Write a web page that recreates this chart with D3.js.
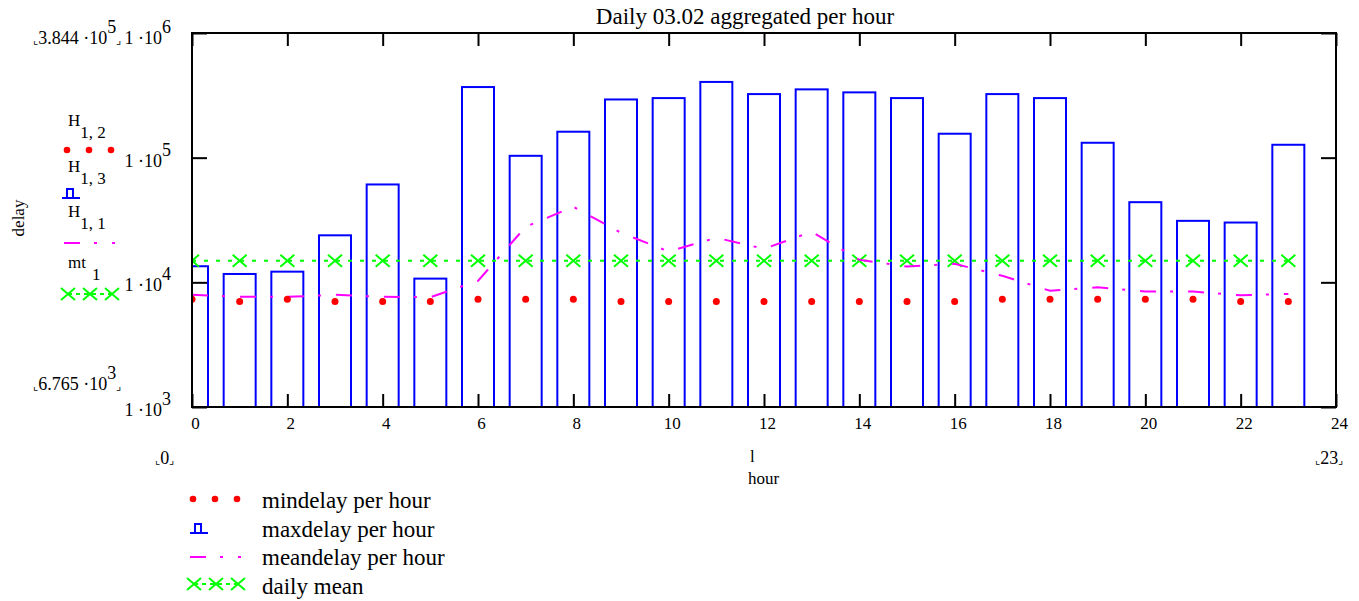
<!DOCTYPE html>
<html>
<head>
<meta charset="utf-8">
<script src="https://cdn.jsdelivr.net/npm/d3@7"></script>
<style>
  body { margin: 0; background: #fff; }
  svg { font-family: "Liberation Serif", "Times New Roman", serif; }
</style>
</head>
<body>
<script>
// values
var hours = [0, 1, 2, 3, 4, 5, 6, 7, 8, 9, 10, 11, 12, 13, 14, 15, 16, 17, 18, 19, 20, 21, 22, 23];
var maxDelay = [13460, 11670, 12180, 23830, 60960, 10710, 368500, 103500, 161500, 293000, 300500, 405000,
                323600, 353000, 334000, 300500, 155600, 323600, 300500, 131700, 43950, 31130, 30180, 126900];
var minDelay = [7330, 7010, 7330, 7010, 7010, 7010, 7330, 7330, 7330, 7010, 7010, 7010,
                7010, 7010, 7010, 7010, 7010, 7330, 7330, 7330, 7330, 7330, 7010, 7010];
var meanDelay = [7940, 7650, 7650, 7940, 7650, 7600, 10280, 27910, 40400, 24980, 17680, 22780,
                 18580, 25440, 15160, 13390, 14080, 11280, 8550, 9120, 8440, 8440, 7860, 8080];
var dailyMean = 14900;
var xTicks = [0, 2, 4, 6, 8, 10, 12, 14, 16, 18, 20, 22, 24];
var yTicks = [1e3, 1e4, 1e5, 1e6];
var legendLabels = ["mindelay per hour", "maxdelay per hour", "meandelay per hour", "daily mean"];

var width = 1359, height = 601;
var plot = { left: 192, right: 1336, top: 33, bottom: 407 };

var svg = d3.select("body").append("svg")
            .attr("width", width)
            .attr("height", height);

var x = d3.scaleLinear().domain([0, 24]).range([plot.left, plot.right]);
var y = d3.scaleLog().domain([1e3, 1e6]).range([plot.bottom, plot.top]);

svg.append("clipPath").attr("id", "clip")
   .append("rect")
   .attr("x", plot.left).attr("y", plot.top)
   .attr("width", plot.right - plot.left)
   .attr("height", plot.bottom - plot.top);

var g = svg.append("g").attr("clip-path", "url(#clip)");

// max delay bars
g.selectAll("rect.bar")
 .data(hours)
 .enter().append("rect")
 .attr("class", "bar")
 .attr("x", function(d) { return x(d) - 16; })
 .attr("y", function(d) { return y(maxDelay[d]); })
 .attr("width", 32)
 .attr("height", function(d) { return plot.bottom - y(maxDelay[d]); })
 .attr("fill", "none")
 .attr("stroke", "#0000ff")
 .attr("stroke-width", 2);

// daily mean, dotted with crosses
g.append("path")
 .datum(hours)
 .attr("d", d3.line().x(function(d) { return x(d); }).y(function() { return y(dailyMean); }))
 .attr("fill", "none")
 .attr("stroke", "#00ff00")
 .attr("stroke-width", 2)
 .attr("stroke-dasharray", "4,8");

var cross = "M-7,-6L7,6M-7,6L7,-6";
g.selectAll("path.cross")
 .data(hours)
 .enter().append("path")
 .attr("class", "cross")
 .attr("transform", function(d) { return "translate(" + x(d) + "," + y(dailyMean) + ")"; })
 .attr("d", cross)
 .attr("stroke", "#00ff00")
 .attr("stroke-width", 2);

// mean delay, dash-dot
g.append("path")
 .datum(hours)
 .attr("d", d3.line().x(function(d) { return x(d); }).y(function(d) { return y(meanDelay[d]); }))
 .attr("fill", "none")
 .attr("stroke", "#ff00ff")
 .attr("stroke-width", 2)
 .attr("stroke-dasharray", "16,14,3,15");

// min delay dots
g.selectAll("circle.min")
 .data(hours)
 .enter().append("circle")
 .attr("class", "min")
 .attr("cx", function(d) { return x(d); })
 .attr("cy", function(d) { return y(minDelay[d]); })
 .attr("r", 3.5)
 .attr("fill", "#ff0000");

// frame and axes
svg.append("rect")
   .attr("x", plot.left).attr("y", plot.top)
   .attr("width", plot.right - plot.left)
   .attr("height", plot.bottom - plot.top)
   .attr("fill", "none")
   .attr("stroke", "#000")
   .attr("stroke-width", 2);

var xAxis = svg.append("g")
   .attr("transform", "translate(0," + plot.bottom + ")")
   .call(d3.axisBottom(x).tickValues(xTicks).tickSize(-13).tickPadding(10).tickFormat(d3.format("d")));
xAxis.select(".domain").remove();
xAxis.selectAll("line").attr("stroke-width", 2);
xAxis.selectAll("text")
     .attr("dx", 3)
     .attr("font-size", 17)
     .attr("font-family", "Liberation Serif")
     .attr("fill", "#000");

var topAxis = svg.append("g")
   .attr("transform", "translate(0," + plot.top + ")")
   .call(d3.axisTop(x).tickValues(xTicks).tickSize(-13).tickFormat(""));
topAxis.select(".domain").remove();
topAxis.selectAll("line").attr("stroke-width", 2);

var yAxis = svg.append("g")
   .attr("transform", "translate(" + plot.left + ",0)")
   .call(d3.axisLeft(y).tickValues(yTicks).tickSize(-15).tickFormat(""));
yAxis.select(".domain").remove();
yAxis.selectAll("line").attr("stroke-width", 2);

var rAxis = svg.append("g")
   .attr("transform", "translate(" + plot.right + ",0)")
   .call(d3.axisRight(y).tickValues(yTicks).tickSize(-15).tickFormat(""));
rAxis.select(".domain").remove();
rAxis.selectAll("line").attr("stroke-width", 2);

// y tick labels 1 ·10^n
var yl = svg.selectAll("text.ylab")
   .data(yTicks)
   .enter().append("text")
   .attr("class", "ylab")
   .attr("x", 171)
   .attr("y", function(d) { return Math.max(y(d) + 9, 44); })
   .attr("text-anchor", "end")
   .attr("font-size", 18);
yl.append("tspan").text("1 \u00b710");
yl.append("tspan").attr("dy", -11)
  .text(function(d) { return Math.round(Math.log10(d)); });

// Mathcad limit markers
function limitLabel(xp, yp, main, sup) {
  var t = svg.append("text").attr("x", xp).attr("y", yp).attr("font-size", 18);
  t.append("tspan").attr("font-family", "DejaVu Sans").attr("font-size", 11).text("\u231e");
  t.append("tspan").text(main);
  if (sup) t.append("tspan").attr("dy", -11).text(sup);
  t.append("tspan").attr("dy", sup ? 11 : 0).attr("font-family", "DejaVu Sans").attr("font-size", 11).text("\u231f");
  return t;
}
limitLabel(33, 44, "3.844 \u00b710", "5");
limitLabel(33, 390, "6.765 \u00b710", "3");
limitLabel(155, 464, "0", null);
limitLabel(1315, 464, "23", null);

svg.append("text").attr("x", 750).attr("y", 462).attr("font-size", 17).text("l");
svg.append("text").attr("x", 748).attr("y", 484).attr("font-size", 17).text("hour");

svg.append("text")
   .attr("transform", "translate(24,218) rotate(-90)")
   .attr("text-anchor", "middle")
   .attr("font-size", 17)
   .text("delay");

svg.append("text")
   .attr("x", 745).attr("y", 24)
   .attr("text-anchor", "middle")
   .attr("font-size", 23)
   .text("Daily 03.02 aggregated per hour");

// left trace names
var traceNames = [["H", "1, 2", 126], ["H", "1, 3", 172], ["H", "1, 1", 217], ["mt", "1", 268]];
traceNames.forEach(function(t) {
  var tx = svg.append("text").attr("x", 68).attr("y", t[2]).attr("font-size", 17);
  tx.append("tspan").text(t[0]);
  tx.append("tspan").attr("dy", 12).attr("dx", t[0] == "mt" ? 6 : 0).text(t[1]);
});

// legend symbols, used at left and at bottom
function symMin(gs) {
  [0, 22, 44].forEach(function(o) {
    gs.append("circle").attr("cx", o).attr("cy", 0).attr("r", 3.3).attr("fill", "#ff0000");
  });
}
function symMax(gs) {
  gs.append("path").attr("d", "M0,5H18M5,5V-4H11V5")
    .attr("fill", "none").attr("stroke", "#0000ff").attr("stroke-width", 2);
}
function symMean(gs) {
  gs.append("path").attr("d", "M0,0H46").attr("stroke", "#ff00ff").attr("stroke-width", 2)
    .attr("stroke-dasharray", "16,14,3,15");
  gs.append("path").attr("d", "M48,0H51").attr("stroke", "#ff00ff").attr("stroke-width", 2);
}
function symDaily(gs) {
  gs.append("path").attr("d", "M0,0H46").attr("stroke", "#00ff00").attr("stroke-width", 2)
    .attr("stroke-dasharray", "4,4");
  [0, 22, 44].forEach(function(o) {
    gs.append("path").attr("d", cross).attr("transform", "translate(" + o + ",0)")
      .attr("stroke", "#00ff00").attr("stroke-width", 2);
  });
}
var symbols = [symMin, symMax, symMean, symDaily];

var leftSym = [[67, 150], [62, 193], [64, 243], [68, 294]];
symbols.forEach(function(f, i) {
  f(svg.append("g").attr("transform", "translate(" + leftSym[i][0] + "," + leftSym[i][1] + ")"));
});

var bottomSym = [[193, 499], [190, 528], [190, 557], [194, 584]];
symbols.forEach(function(f, i) {
  f(svg.append("g").attr("transform", "translate(" + bottomSym[i][0] + "," + bottomSym[i][1] + ")"));
});

svg.selectAll("text.leg")
   .data(legendLabels)
   .enter().append("text")
   .attr("class", "leg")
   .attr("x", 262)
   .attr("y", function(d, i) { return 508 + i * 28.5; })
   .attr("font-size", 23)
   .text(function(d) { return d; });
</script>
</body>
</html>
